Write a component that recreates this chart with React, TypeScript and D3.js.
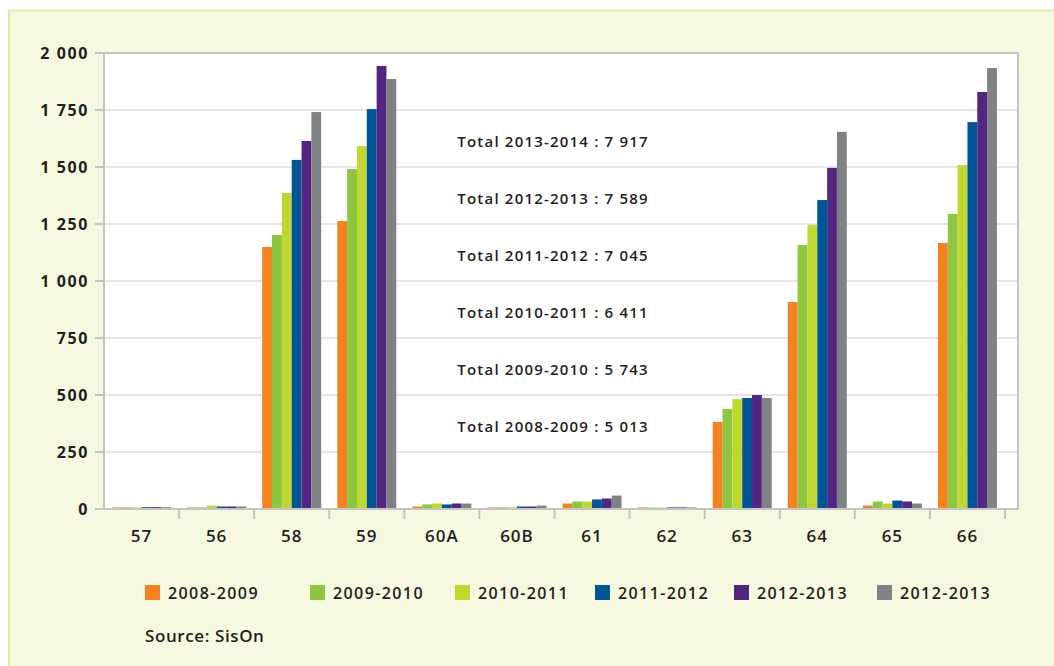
import React from "react";
import * as d3 from "d3";

const categories = ["57", "56", "58", "59", "60A", "60B", "61", "62", "63", "64", "65", "66"];
const seriesNames = ["2008-2009", "2009-2010", "2010-2011", "2011-2012", "2012-2013", "2012-2013 "];
const seriesColors = ["#f58220", "#8dc63f", "#bfd730", "#005596", "#522682", "#808285"];

const s2008 = [7, 7, 1149, 1263, 11, 7, 24, 7, 382, 908, 15, 1167];
const s2009 = [7, 7, 1202, 1491, 20, 7, 33, 6, 439, 1158, 33, 1294];
const s2010 = [7, 15, 1386, 1592, 24, 7, 33, 6, 482, 1246, 24, 1509];
const s2011 = [8, 11, 1531, 1754, 20, 11, 42, 7, 487, 1355, 37, 1697];
const s2012 = [8, 11, 1614, 1943, 24, 11, 46, 7, 500, 1496, 33, 1829];
const s2013 = [8, 11, 1741, 1886, 24, 15, 59, 7, 487, 1654, 24, 1934];
const seriesValues = [s2008, s2009, s2010, s2011, s2012, s2013];

const yTicks = [0, 250, 500, 750, 1000, 1250, 1500, 1750, 2000];
const totals = [
  "Total 2013-2014 : 7 917",
  "Total 2012-2013 : 7 589",
  "Total 2011-2012 : 7 045",
  "Total 2010-2011 : 6 411",
  "Total 2009-2010 : 5 743",
  "Total 2008-2009 : 5 013",
];
const legendLabels = ["2008-2009", "2009-2010", "2010-2011", "2011-2012", "2012-2013", "2012-2013"];
const legendX = [145, 310, 455, 595, 734, 877];

const FONT = "'Open Sans', 'DejaVu Sans', sans-serif";
const TEXT = "#231f20";
const AXIS = "#c4c4c4";

export default function App() {
  const left = 104;
  const bandRight = 1005;
  const plotRight = 1018;
  const top = 53;
  const bottom = 509;

  const x = d3.scaleBand<string>().domain(categories).range([left, bandRight]).padding(0);
  const xs = d3
    .scaleBand<number>()
    .domain(d3.range(seriesNames.length))
    .range([0, x.bandwidth()])
    .paddingInner(0)
    .paddingOuter(0.82);
  const y = d3.scaleLinear().domain([0, 2000]).range([bottom, top]);

  const fmt = (v: number) => d3.format(",")(v).replace(/,/g, " ");

  return (
    <div style={{ position: "absolute", left: 0, top: 0 }}>
      <svg width={1054} height={666} style={{ display: "block" }}>
        <rect x={0} y={0} width={1054} height={666} fill="#ffffff" />
        <rect x={9} y={10.5} width={1100} height={700} fill="#f7f8e0" stroke="#e3e9ae" strokeWidth={2} />

        {/* plot area */}
        <rect x={left} y={top} width={plotRight - left} height={bottom - top} fill="#ffffff" />

        {/* gridlines */}
        {yTicks
          .filter((t) => t > 0 && t < 2000)
          .map((t) => (
            <line key={"g" + t} x1={left} x2={plotRight} y1={y(t)} y2={y(t)} stroke="#e6e6e6" strokeWidth={2} />
          ))}

        {/* bars */}
        {categories.map((c, ci) => (
          <g key={c} transform={`translate(${x(c)},0)`}>
            {seriesValues.map((vals, si) => (
              <rect
                key={si}
                x={xs(si)}
                y={y(vals[ci])}
                width={xs.bandwidth()}
                height={y(0) - y(vals[ci])}
                fill={seriesColors[si]}
              />
            ))}
          </g>
        ))}

        {/* frame: top and right */}
        <line x1={left} x2={plotRight} y1={top} y2={top} stroke={AXIS} strokeWidth={2} />
        <line x1={plotRight} x2={plotRight} y1={top - 1} y2={bottom} stroke={AXIS} strokeWidth={2} />

        {/* y axis */}
        <line x1={left} x2={left} y1={top - 1} y2={bottom} stroke={AXIS} strokeWidth={2} />
        {yTicks.map((t) => (
          <g key={"y" + t}>
            <line x1={95} x2={left} y1={y(t)} y2={y(t)} stroke={AXIS} strokeWidth={2} />
            <text
              x={89}
              y={y(t)}
              dy="0.36em"
              textAnchor="end"
              fontFamily={FONT}
              fontWeight={700}
              fontSize={16}
              letterSpacing={1.6}
              fill={TEXT}
            >
              {fmt(t)}
            </text>
          </g>
        ))}

        {/* x axis */}
        <line x1={95} x2={plotRight + 1} y1={bottom} y2={bottom} stroke={AXIS} strokeWidth={2} />
        {categories.map((c) => (
          <g key={"x" + c}>
            <line
              x1={(x(c) as number) + x.bandwidth()}
              x2={(x(c) as number) + x.bandwidth()}
              y1={bottom}
              y2={bottom + 10}
              stroke={AXIS}
              strokeWidth={2}
            />
            <text
              x={(x(c) as number) + x.bandwidth() / 2}
              y={542}
              textAnchor="middle"
              fontFamily={FONT}
              fontWeight={600}
              fontSize={17}
              letterSpacing={1}
              fill={TEXT}
            >
              {c}
            </text>
          </g>
        ))}

        {/* totals annotations */}
        {totals.map((t, i) => (
          <text
            key={"t" + i}
            x={(x("60A") as number) + 53}
            y={y(1625 - 250 * i) + 8.5}
            fontFamily={FONT}
            fontWeight={600}
            fontSize={15}
            letterSpacing={1.2}
            fill={TEXT}
          >
            {t}
          </text>
        ))}

        {/* legend */}
        {legendLabels.map((l, i) => (
          <g key={"l" + i}>
            <rect x={legendX[i]} y={585} width={15} height={15} fill={seriesColors[i]} />
            <text
              x={legendX[i] + 23}
              y={599}
              fontFamily={FONT}
              fontWeight={600}
              fontSize={16}
              letterSpacing={1.4}
              fill={TEXT}
            >
              {l}
            </text>
          </g>
        ))}

        <text x={145} y={642} fontFamily={FONT} fontWeight={600} fontSize={17} letterSpacing={0.6} fill={TEXT}>
          Source: SisOn
        </text>
      </svg>
    </div>
  );
}
